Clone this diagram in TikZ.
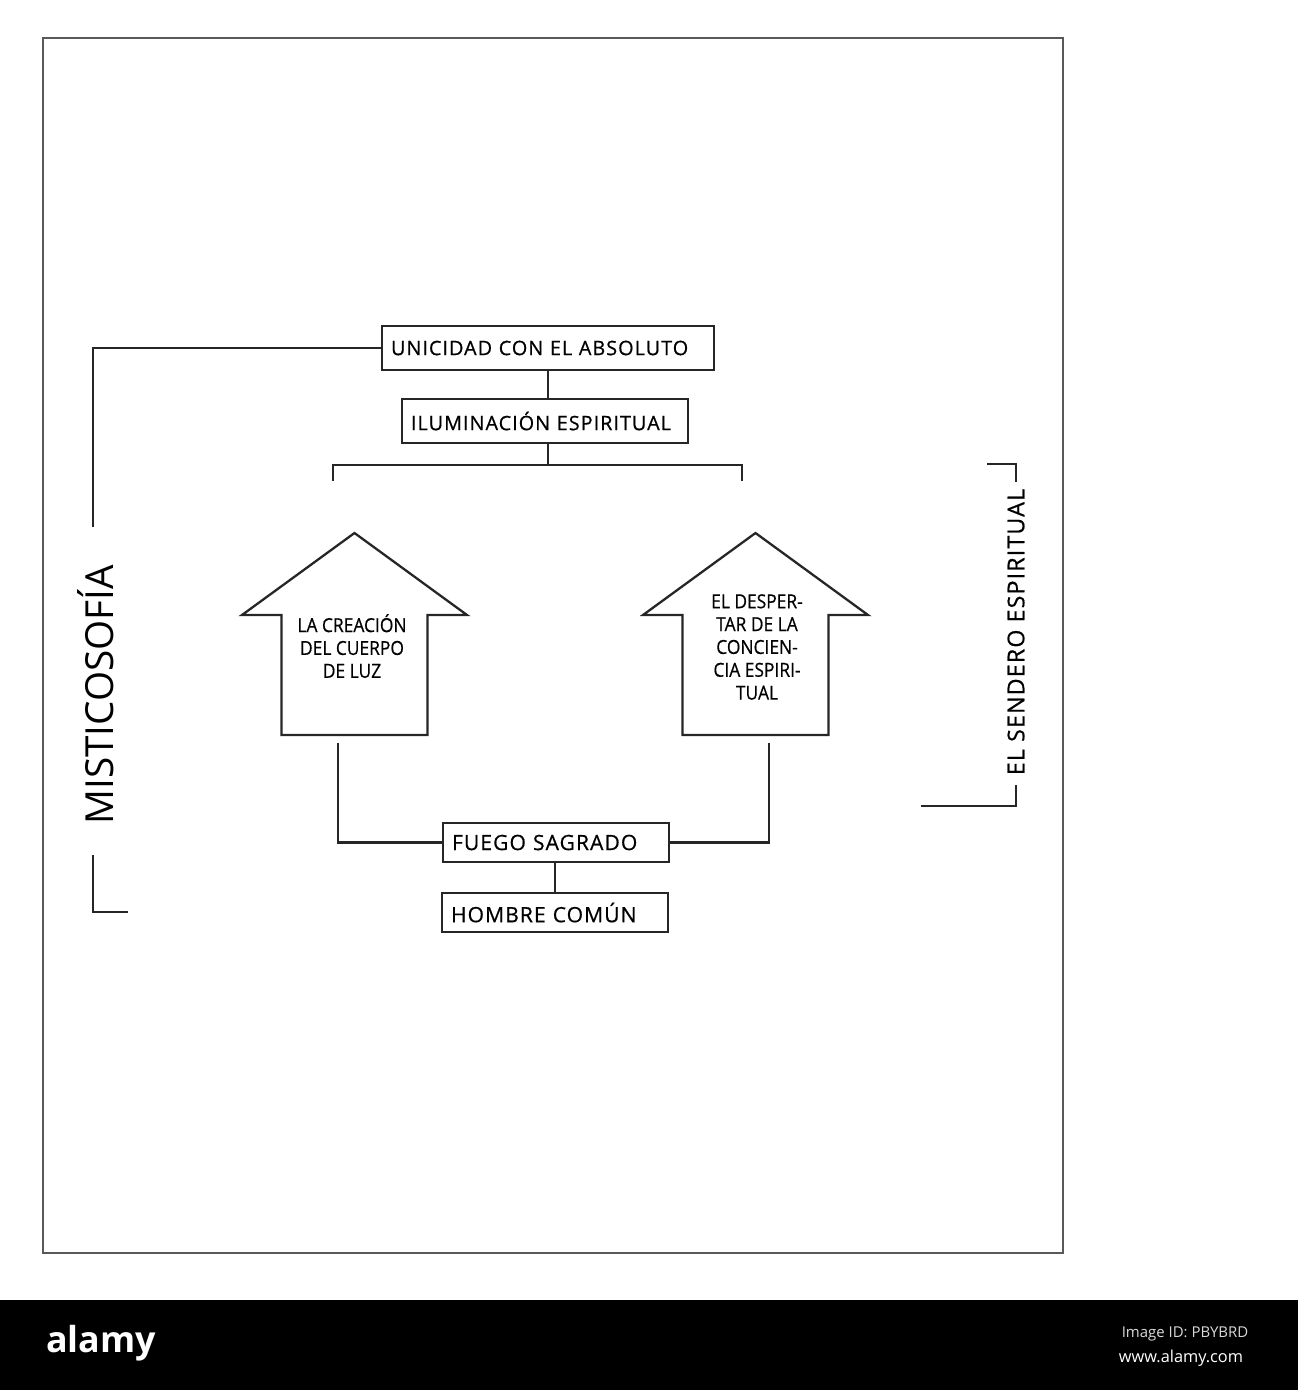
\documentclass[tikz,border=0pt]{standalone}
\usepackage{fontspec}
\setmainfont{Open Sans}
\newfontfamily\boxfont[LetterSpace=5,FakeBold=0.6]{Open Sans}
\newfontfamily\narrowfont[FakeStretch=0.9,FakeBold=0.5]{Open Sans}
\usetikzlibrary{positioning}

\begin{document}
\begin{tikzpicture}[x=0.02cm, y=-0.02cm, line width=1.3pt, black!85,
    box/.style={draw, text=black, inner xsep=0.18cm, inner ysep=0pt, align=left, font=\boxfont\fontsize{11.3}{13}\selectfont},
    lbl/.style={text=black, align=center, font=\narrowfont\fontsize{11}{13}\selectfont},
    side/.style={text=black, rotate=90}]
    \useasboundingbox (0,0) rectangle (1298,1390);
    \draw[black!65] (43,38) rectangle (1063,1253);

    \node[box, text width=6.28cm, minimum height=0.88cm] (unicidad) at (548,348) {UNICIDAD CON EL ABSOLUTO};
    \node[box, text width=5.36cm, minimum height=0.88cm] (iluminacion) at (545,421) {ILUMINACIÓN ESPIRITUAL};
    \node[box, text width=4.16cm, minimum height=0.78cm, font=\boxfont\fontsize{12}{14}\selectfont] (fuego) at (556,842.5) {FUEGO SAGRADO};
    \node[box, text width=4.16cm, minimum height=0.78cm, font=\boxfont\fontsize{12}{14}\selectfont] (hombre) at (555,912.5) {HOMBRE COMÚN};

    \draw (unicidad.south) -- (unicidad.south |- iluminacion.north);
    \coordinate (ramaizq) at (333,481);
    \coordinate (ramader) at (742,481);
    \draw (unicidad.south |- iluminacion.south) -- (unicidad.south |- 0,465);
    \draw (ramaizq) -- ++(0,-16) -| (ramader);

    \foreach \cx in {354.5,755.5}
        \draw (\cx,533) -- (\cx+112.5,615) -- (\cx+73,615) -- (\cx+73,735) -- (\cx-73,735) -- (\cx-73,615) -- (\cx-112.5,615) -- cycle;
    \node[lbl] (creacion) at (352,646) {LA CREACIÓN\\DEL CUERPO\\DE LUZ};
    \node[lbl] (despertar) at (757,647) {EL DESPER-\\TAR DE LA\\CONCIEN-\\CIA ESPIRI-\\TUAL};

    \coordinate (creacionpie) at (338,743);
    \coordinate (despertarpie) at (769,743);
    \draw (creacionpie) |- (fuego.west);
    \draw (despertarpie) |- (fuego.east);
    \draw (hombre.north) -- (hombre.north |- fuego.south);

    \node[side, font=\fontsize{22}{26}\selectfont] (misticosofia) at (96,695) {MISTICOSOFÍA};
    \coordinate (misttop) at (93,527);
    \coordinate (mistbot) at (93,855);
    \draw (unicidad.west) -| (misttop);
    \draw (mistbot) -- (93,912) -- (128,912);

    \node[side, font=\boxfont\fontsize{13.2}{16}\selectfont] (sendero) at (1016,632) {EL SENDERO ESPIRITUAL};
    \coordinate (senderotop) at (1016,482);
    \coordinate (senderobot) at (1016,785);
    \draw (987,464) -| (senderotop);
    \draw (senderobot) |- (921,806);

    \fill[black] (0,1300) rectangle (1298,1390);
    \node[text=white, font=\bfseries\fontsize{20.4}{22}\selectfont] (alamy) at (101,1343) {alamy};
    \node[text=white!85!black, font=\fontsize{8.5}{10}\selectfont] (imageid) at (1185,1334) {Image ID: PBYBRD};
    \node[text=white, font=\fontsize{9.3}{11}\selectfont] (web) at (1181,1358) {www.alamy.com};
\end{tikzpicture}
\end{document}
